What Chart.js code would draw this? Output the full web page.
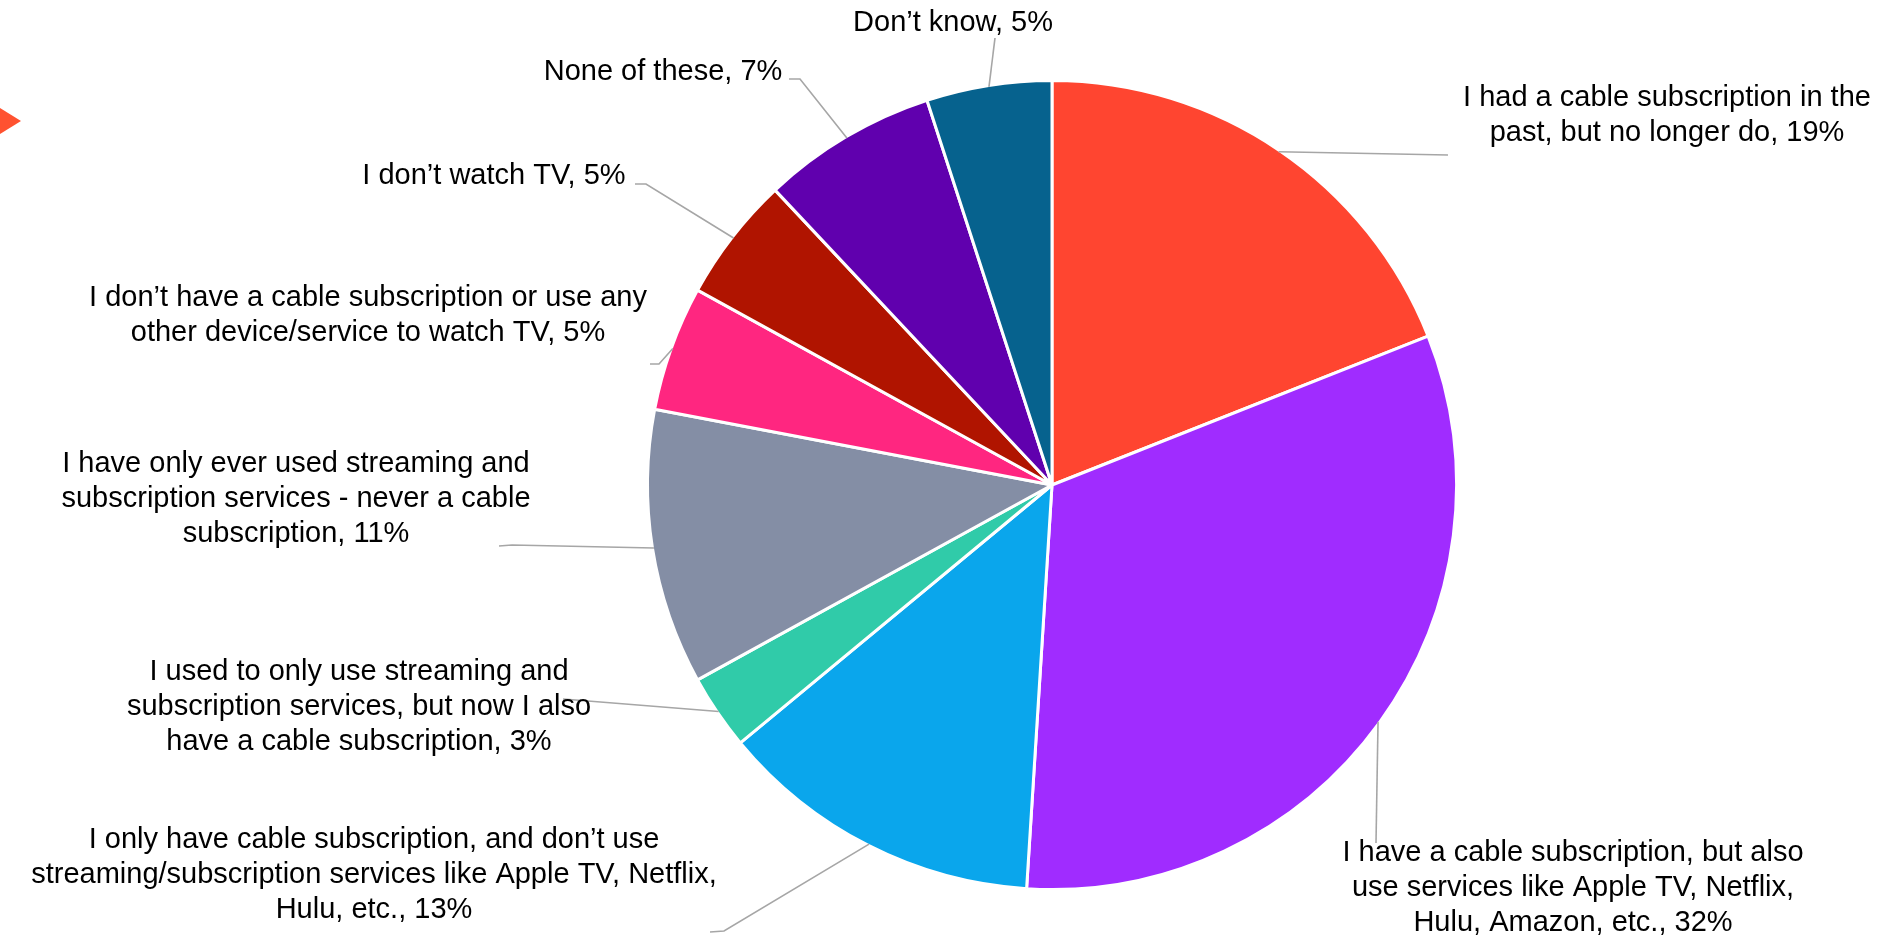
<!DOCTYPE html>
<html>
<head>
<meta charset="utf-8">
<title>TV subscriptions</title>
<script src="https://cdn.jsdelivr.net/npm/chart.js@4.4.1/dist/chart.umd.min.js"></script>
<style>
    html, body { margin: 0; padding: 0; background: #fff; overflow: hidden; }
    #wrap { position: relative; width: 1887px; height: 936px; }
    #pie { position: absolute; left: 0; top: 0; }
    /* little slide marker on the left edge */
    #marker {
        position: absolute; left: 0; top: 108px; width: 0; height: 0;
        border-top: 13.5px solid transparent;
        border-bottom: 13.5px solid transparent;
        border-left: 21px solid #ff5230;
    }
</style>
</head>
<body>
<div id="wrap">
    <canvas id="pie" width="1887" height="936"></canvas>
    <div id="marker"></div>
</div>
<script>
// answers, already wrapped the way they are printed
const categories = [
    ["I had a cable subscription in the", "past, but no longer do"],
    ["I have a cable subscription, but also", "use services like Apple TV, Netflix,", "Hulu, Amazon, etc."],
    ["I only have cable subscription, and don\u2019t use", "streaming/subscription services like Apple TV, Netflix,", "Hulu, etc."],
    ["I used to only use streaming and", "subscription services, but now I also", "have a cable subscription"],
    ["I have only ever used streaming and", "subscription services - never a cable", "subscription"],
    ["I don\u2019t have a cable subscription or use any", "other device/service to watch TV"],
    ["I don\u2019t watch TV"],
    ["None of these"],
    ["Don\u2019t know"]
];

// share of respondents, %
const values = [19, 32, 13, 3, 11, 5, 5, 7, 5];

const sliceColors = ['#ff4530', '#a02cff', '#0aa6ec', '#30cba9', '#848ea5', '#ff2680', '#b01400', '#6000ae', '#06628e'];

// label block centre and leader bend points, as offsets from the pie centre
const labelLayout = [
    { at: [615, -370], leader: [[396, -330]] },
    { at: [521, 403], leader: [[324, 358]] },
    { at: [-678, 390], leader: [[-328, 446], [-342, 447]] },
    { at: [-693, 222], leader: [[-489, 214]] },
    { at: [-756, 14], leader: [[-540, 60], [-553, 61]] },
    { at: [-684, -170], leader: [[-393, -121], [-402, -121]] },
    { at: [-558, -309], leader: [[-406, -301], [-417, -301]] },
    { at: [-389, -413], leader: [[-252, -406], [-263, -406]] },
    { at: [-99, -462], leader: [[-57, -447]] }
];

const labelFont = '29px "Liberation Sans", Arial, sans-serif';
const lineHeight = 35;

// draws the callout text and grey leader lines next to each slice
const calloutLabels = {
    id: 'calloutLabels',
    afterDatasetsDraw(chart) {
        const ctx = chart.ctx;
        const meta = chart.getDatasetMeta(0);
        ctx.save();
        meta.data.forEach((arc, i) => {
            const p = arc.getProps(['x', 'y', 'startAngle', 'endAngle', 'outerRadius'], true);
            const mid = (p.startAngle + p.endAngle) / 2;
            const r = p.outerRadius - 1.5;
            const lay = labelLayout[i];

            ctx.beginPath();
            ctx.moveTo(p.x + Math.cos(mid) * r, p.y + Math.sin(mid) * r);
            lay.leader.forEach(([dx, dy]) => ctx.lineTo(p.x + dx, p.y + dy));
            ctx.strokeStyle = '#a6a6a6';
            ctx.lineWidth = 1.6;
            ctx.stroke();

            const lines = categories[i].slice();
            lines[lines.length - 1] += ', ' + values[i] + '%';
            ctx.font = labelFont;
            ctx.fillStyle = '#000';
            ctx.textAlign = 'center';
            ctx.textBaseline = 'middle';
            const top = p.y + lay.at[1] - (lines.length - 1) * lineHeight / 2;
            lines.forEach((line, k) => ctx.fillText(line, p.x + lay.at[0], top + k * lineHeight));
        });
        ctx.restore();
    }
};

new Chart(document.getElementById('pie'), {
    type: 'pie',
    data: {
        labels: categories.map(c => c.join(' ')),
        datasets: [{
            data: values,
            backgroundColor: sliceColors,
            borderColor: '#ffffff',
            borderWidth: 3
        }]
    },
    options: {
        responsive: false,
        maintainAspectRatio: false,
        animation: false,
        layout: { padding: { left: 646, right: 429, top: 79, bottom: 45 } },
        plugins: {
            legend: { display: false },
            tooltip: { enabled: false }
        }
    },
    plugins: [calloutLabels]
});
</script>
</body>
</html>
